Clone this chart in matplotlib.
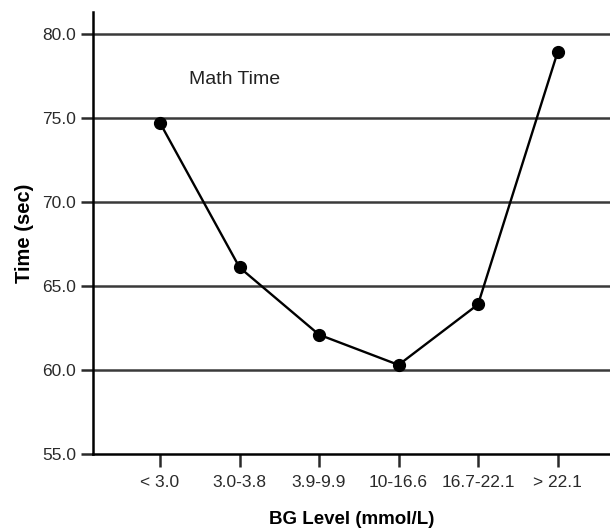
import matplotlib
matplotlib.use('Agg')
from matplotlib import pyplot as plt

# BG level groups and mean math time (sec)
categories = ['< 3.0', '3.0-3.8', '3.9-9.9', '10-16.6', '16.7-22.1', '> 22.1']
times = [74.7, 66.1, 62.1, 60.3, 63.9, 78.9]
y_ticks = [55.0, 60.0, 65.0, 70.0, 75.0, 80.0]

plt.rcParams['font.family'] = ['Liberation Sans', 'DejaVu Sans']

fig = plt.figure(figsize=(6.1, 5.28), dpi=100)
ax = fig.add_axes([0.1525, 0.1402, 0.8475, 0.837])

x = list(range(len(categories)))

for t in y_ticks[1:]:
	ax.axhline(t, color='#3a3a3a', linewidth=1.8, zorder=1)

ax.plot(x, times, color='black', linewidth=1.7, marker='o', markersize=8.5, zorder=3)

ax.text(0.37, 77.3, 'Math Time', fontsize=14, color='#222222', va='center', ha='left')

ax.set_xlim(-0.843, 5.66)
ax.set_ylim(55.0, 81.3)
ax.set_xticks(x)
ax.set_xticklabels(categories)
ax.set_yticks(y_ticks)
ax.set_yticklabels(['%.1f' % t for t in y_ticks])

ax.spines['top'].set_visible(False)
ax.spines['right'].set_visible(False)
ax.spines['left'].set_linewidth(1.8)
ax.spines['bottom'].set_linewidth(1.8)
ax.tick_params(axis='both', direction='out', length=9, width=1.8, labelsize=12.5, colors='#2a2a2a')
ax.tick_params(axis='x', pad=6)
ax.tick_params(axis='y', pad=3)

ax.set_xlabel('BG Level (mmol/L)', fontsize=13.5, fontweight='bold', labelpad=15)
ax.set_ylabel('Time (sec)', fontsize=14.5, fontweight='bold', labelpad=6)

fig.savefig('out.png', dpi=100)
